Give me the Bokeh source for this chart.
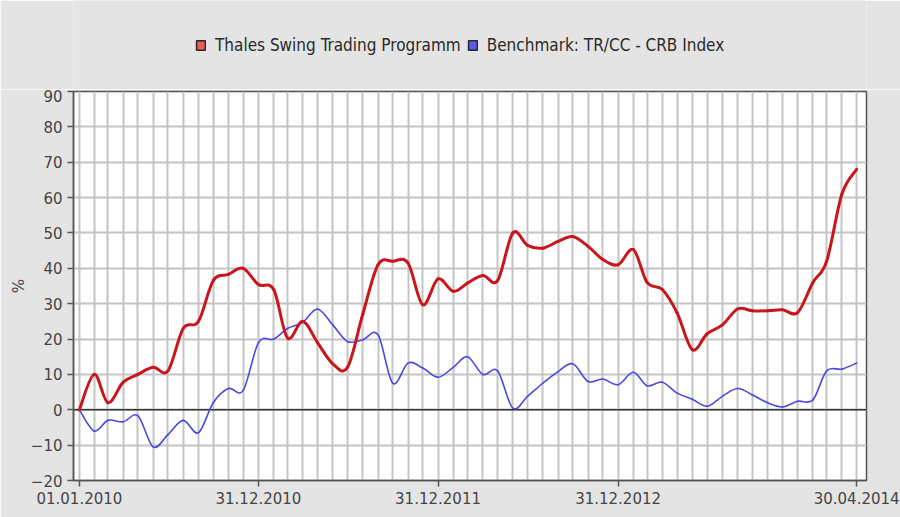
import numpy as np
import pandas as pd
from bokeh.plotting import figure
from bokeh.layouts import column
from bokeh.models import (FixedTicker, DatetimeTickFormatter, Span, Legend,
                          LegendItem, ColumnDataSource, Range1d)
from bokeh.embed import file_html
from bokeh.resources import INLINE

# ---- data (monthly, 01.01.2010 .. 30.04.2014) ----
dates = pd.DatetimeIndex([pd.Timestamp("2010-01-01")]).append(
    pd.date_range("2010-01-31", "2014-04-30", freq="ME"))

thales = [0, 10, 2, 7.8, 10, 12, 11, 23, 25, 36.5, 38.3, 40,
          35.4, 34, 20.3, 25, 19, 13, 12, 27, 41, 42, 41.5, 29.7,
          37, 33.5, 35.8, 38, 36.5, 50, 46.5, 45.7, 47.6, 49, 46.2, 42.5,
          41, 45.3, 36, 34, 27.4, 17, 21.5, 24, 28.5, 28, 28, 28.3,
          27.5, 36, 42, 61, 68]

crb = [0, -6, -3, -3.4, -1.7, -10.5, -7, -3, -6.5, 2, 6, 5.5,
       19, 20, 23, 24.7, 28.5, 24, 19.3, 19.8, 21.2, 7.5, 13.2, 11.8,
       9.2, 12, 15, 10, 11, 0.5, 3.8, 7.5, 10.8, 13, 8, 8.7,
       7.1, 10.6, 6.8, 7.8, 4.7, 3, 1, 3.8, 6, 4.2, 2, 0.8,
       2.4, 2.8, 11, 11.5, 13.2]

label_dates = ["2010-01-01", "2010-12-31", "2011-12-31", "2012-12-31", "2014-04-30"]
y_ticks = list(range(-20, 91, 10))
series_names = ["Thales Swing Trading Programm", "Benchmark: TR/CC - CRB Index"]


def to_ms(d):
    return pd.Timestamp(d).value / 1e6


xs = np.array([to_ms(d) for d in dates])
DAY = 86400000.0


def smooth_source(x, y):
    x = np.asarray(x, float)
    y = np.asarray(y, float)
    n = len(x)
    xp = np.concatenate([[x[0]], x, [x[-1]]])
    yp = np.concatenate([[y[0]], y, [y[-1]]])
    return ColumnDataSource(dict(
        x0=x[:-1], y0=y[:-1], x1=x[1:], y1=y[1:],
        cx0=x[:-1] + (x[1:] - xp[0:n - 1]) / 6.0,
        cy0=y[:-1] + (y[1:] - yp[0:n - 1]) / 6.0,
        cx1=x[1:] - (xp[3:n + 2] - x[:-1]) / 6.0,
        cy1=y[1:] - (yp[3:n + 2] - y[:-1]) / 6.0,
    ))


BG = "#e4e4e4"
FONT = "DejaVu Sans"
LEG_FONT = "DejaVu Sans Condensed, DejaVu Sans"

# ---------------- legend strip ----------------
lf = figure(width=900, height=89, x_range=Range1d(0, 1), y_range=Range1d(0, 1),
            output_backend="svg", toolbar_location=None,
            x_axis_location=None, y_axis_location=None,
            min_border=0)
lf.background_fill_color = BG
lf.border_fill_color = BG
lf.outline_line_color = None
lf.xgrid.visible = False
lf.ygrid.visible = False

nan = [float("nan")]
r_leg = lf.quad(left=nan, right=nan, top=nan, bottom=nan,
                fill_color="#f05a5a", line_color="#2a2a2a", line_width=1.6)
b_leg = lf.quad(left=nan, right=nan, top=nan, bottom=nan,
                fill_color="#5a5af0", line_color="#2a2a2a", line_width=1.6)
legend = Legend(items=[LegendItem(label=series_names[0], renderers=[r_leg]),
                       LegendItem(label=series_names[1], renderers=[b_leg])],
                orientation="horizontal", location=(122, 34),
                glyph_width=11, glyph_height=12, label_standoff=9, spacing=6,
                padding=0, margin=0, label_height=14,
                label_text_font=LEG_FONT, label_text_font_size="17px",
                label_text_color="#2a2a2a",
                background_fill_alpha=0, border_line_alpha=0)
lf.add_layout(legend)

# ---------------- main chart ----------------
p = figure(width=900, height=428, x_axis_type="datetime",
           x_range=Range1d(xs[0] - 12 * DAY, xs[-1] + 20 * DAY),
           y_range=Range1d(-20, 90),
           output_backend="svg", toolbar_location=None,
           min_border_left=73, min_border_right=34,
           min_border_top=2, min_border_bottom=37)

p.background_fill_color = "white"
p.border_fill_color = BG
p.outline_line_color = "#555555"
p.outline_line_width = 1.5

p.xgrid.ticker = FixedTicker(ticks=list(xs))
p.xgrid.grid_line_color = "#c4c4c4"
p.xgrid.grid_line_width = 2
p.ygrid.ticker = FixedTicker(ticks=y_ticks)
p.ygrid.grid_line_color = "#c4c4c4"
p.ygrid.grid_line_width = 2

p.add_layout(Span(location=0, dimension="width", line_color="#333333",
                  line_width=1.3, level="underlay"))

p.xaxis.ticker = FixedTicker(ticks=[to_ms(d) for d in label_dates])
fmt = "%d.%m.%Y"
p.xaxis.formatter = DatetimeTickFormatter(
    milliseconds=fmt, seconds=fmt, minsec=fmt, minutes=fmt, hourmin=fmt,
    hours=fmt, days=fmt, months=fmt, years=fmt, context=None)
p.yaxis.ticker = FixedTicker(ticks=y_ticks)
p.yaxis.axis_label = "%"

for ax in (p.xaxis[0], p.yaxis[0]):
    ax.axis_line_color = "#555555"
    ax.axis_line_width = 1.5
    ax.major_tick_line_color = "#555555"
    ax.major_tick_line_width = 1.5
    ax.major_tick_in = 0
    ax.major_tick_out = 6
    ax.minor_tick_line_color = None
    ax.major_label_text_font = FONT
    ax.major_label_text_font_size = "15px"
    ax.major_label_text_color = "#444444"
    ax.major_label_standoff = 5
    ax.axis_label_text_font = FONT
    ax.axis_label_text_font_size = "15px"
    ax.axis_label_text_font_style = "normal"
    ax.axis_label_text_color = "#444444"
    ax.axis_label_standoff = 0

p.bezier(x0="x0", y0="y0", x1="x1", y1="y1", cx0="cx0", cy0="cy0",
         cx1="cx1", cy1="cy1", source=smooth_source(xs, crb),
         line_color="#4a4ae0", line_width=1.6, line_cap="round")
p.bezier(x0="x0", y0="y0", x1="x1", y1="y1", cx0="cx0", cy0="cy0",
         cx1="cx1", cy1="cy1", source=smooth_source(xs, thales),
         line_color="#c8161c", line_width=3, line_cap="round")

layout = column(lf, p, spacing=0)
open("out.html", "w").write(file_html(layout, INLINE))
